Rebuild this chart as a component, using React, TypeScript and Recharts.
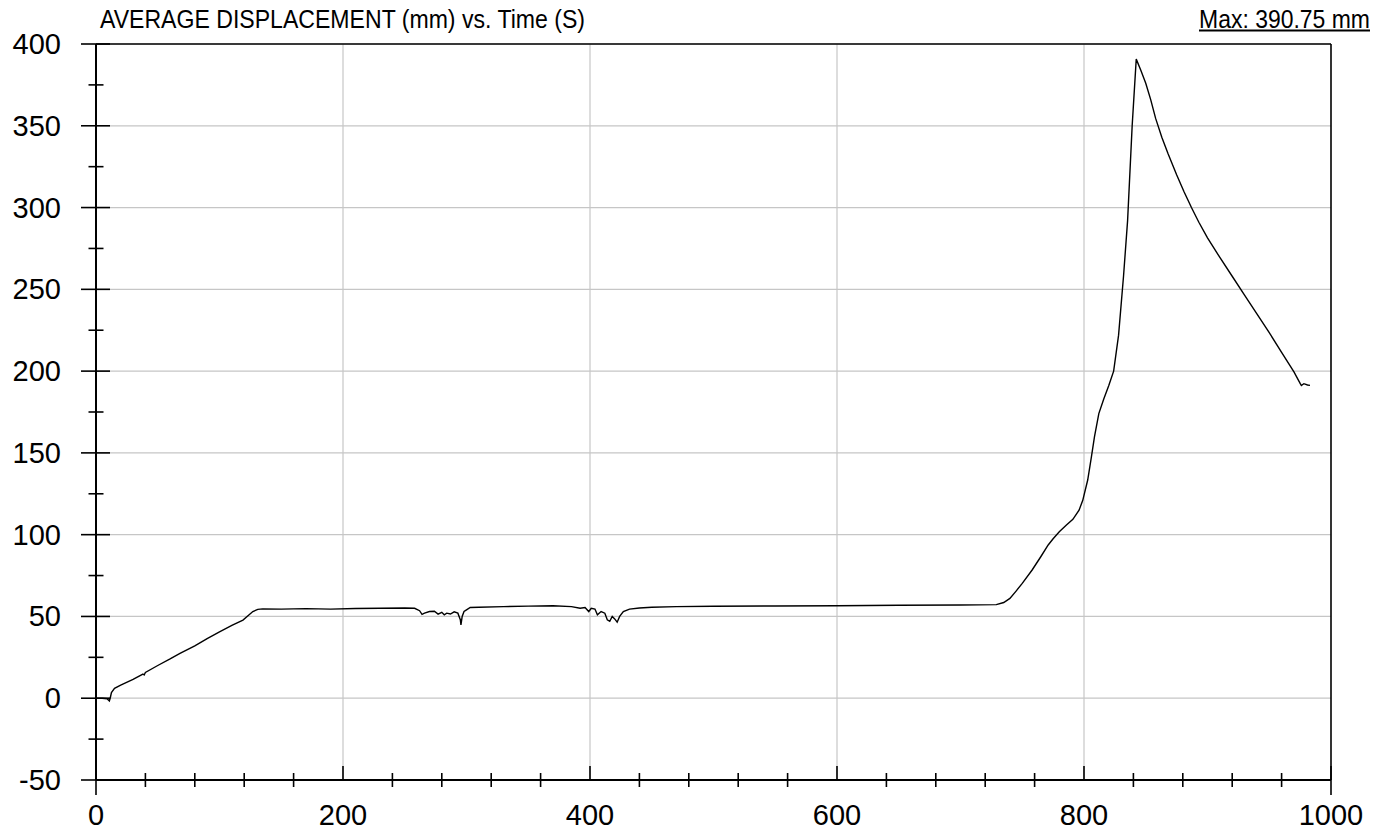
import React from 'react';
import { LineChart, Line, XAxis, YAxis, CartesianGrid, ReferenceLine } from 'recharts';

const timeS = [
  0, 5, 9, 10.8, 11.5, 12.5, 15, 20, 30, 38, 39, 40, 50, 60, 68, 80, 90, 100, 110, 119, 124, 127, 131, 135,
  150, 170, 190, 210, 230, 250, 258,
  262, 264, 266, 270, 274, 277, 280, 282, 284, 287, 290, 293, 295, 295.5, 296.5, 298, 300, 303, 310,
  330, 350, 370, 385, 392,
  396, 399, 401, 404, 406, 409, 412, 414, 416, 418, 420, 422, 424, 427, 432, 440, 450, 470,
  500, 550, 600, 650, 700, 729,
  735, 740, 745, 750, 758, 765, 771, 775, 780, 786, 791, 796, 799, 803, 806, 808.5, 812, 816, 820, 824, 828, 832, 835.3, 839, 842.3,
  846, 850, 854, 858, 863, 868, 875, 881, 887, 893, 900, 910, 920, 930, 940, 950, 960, 970, 975, 976, 978, 981, 983,
];

const displacementMm = [
  0, 0, -0.3, -1.7, 0, 3.5, 6, 8, 11.5, 14.8, 14.2, 15.8, 20, 24, 27.4, 32, 36.5, 40.5, 44.5, 47.8, 51, 53, 54.3, 54.6,
  54.5, 54.8, 54.5, 54.9, 55, 55.2, 55,
  53.5, 51.3, 52, 53, 53.2, 51.4, 52.5, 51, 52, 51.5, 52.8, 52, 48, 44.8, 50, 53, 54, 55.5, 55.6,
  56, 56.3, 56.5, 56, 55,
  55.5, 53, 55, 54.5, 51, 53, 52, 48, 47, 50, 48.5, 46.5, 50, 53, 54.5, 55.2, 55.6, 56,
  56.2, 56.4, 56.5, 56.8, 57, 57.2,
  58.5, 61, 65.5, 70.2, 78.4, 86.5, 93.7, 97.5, 101.8, 106, 109.4, 115, 121, 133.4, 147.6, 160, 174, 183, 191, 200, 222, 258, 292, 350, 390.75,
  384, 376, 366, 354.5, 343, 333, 320, 309.7, 300, 291, 281.5, 269.5, 258, 246.5, 235, 223.5, 211.5, 199.5, 192.5, 191.2, 192.3, 191.5, 191.3,
];

const xTicks = [0, 40, 80, 120, 160, 200, 240, 280, 320, 360, 400, 440, 480, 520, 560, 600, 640, 680, 720, 760, 800, 840, 880, 920, 960, 1000];
const xLabelTicks = [0, 200, 400, 600, 800, 1000];
const xGridValues = [200, 400, 600, 800];
const yTicks = [-50, -25, 0, 25, 50, 75, 100, 125, 150, 175, 200, 225, 250, 275, 300, 325, 350, 375, 400];
const yLabelTicks = [-50, 0, 50, 100, 150, 200, 250, 300, 350, 400];

const titleText = 'AVERAGE DISPLACEMENT (mm) vs. Time (S)';
const maxText = 'Max: 390.75 mm';

const data = timeS.map((t, i) => ({ t, d: displacementMm[i] }));

const FONT = '"Liberation Sans", Arial, Helvetica, sans-serif';

const XTick = (props: any) => {
  const { x, y, payload } = props;
  const v = payload.value;
  const major = xLabelTicks.includes(v);
  const end = v === 0 || v === 1000;
  return (
    <g>
      {major ? (
        <line x1={x} x2={x} y1={y - 14} y2={end ? y + 15 : y} stroke="#000" strokeWidth={1.6} />
      ) : (
        <line x1={x} x2={x} y1={y - 7} y2={y + 7} stroke="#000" strokeWidth={1.6} />
      )}
      {major && (
        <text x={x} y={y + 45} textAnchor="middle" fontSize={29} fontFamily={FONT} fill="#000">
          {v}
        </text>
      )}
    </g>
  );
};

const YTick = (props: any) => {
  const { x, y, payload } = props;
  const v = payload.value;
  const major = yLabelTicks.includes(v);
  return (
    <g>
      {major ? (
        <line x1={x - 15} x2={x + 14} y1={y} y2={y} stroke="#000" strokeWidth={1.6} />
      ) : (
        <line x1={x - 7.5} x2={x + 7.5} y1={y} y2={y} stroke="#000" strokeWidth={1.6} />
      )}
      {major && (
        <text x={x - 35} y={y + 10} textAnchor="end" fontSize={29} fontFamily={FONT} fill="#000">
          {v}
        </text>
      )}
    </g>
  );
};

export default function App() {
  return (
    <div style={{ position: 'absolute', left: 0, top: 0, width: 1384, height: 833, background: '#fff' }}>
      <LineChart
        width={1384}
        height={833}
        data={data}
        margin={{ top: 44, right: 53, bottom: 13, left: 36 }}
      >
        <CartesianGrid
          stroke="#c6c6c6"
          strokeWidth={1.2}
          horizontalValues={yLabelTicks}
          verticalValues={xGridValues}
        />
        <XAxis
          dataKey="t"
          type="number"
          domain={[0, 1000]}
          ticks={xTicks}
          interval={0}
          height={40}
          tickSize={0}
          tickMargin={0}
          tickLine={false}
          axisLine={{ stroke: '#000', strokeWidth: 2 }}
          tick={<XTick />}
        />
        <YAxis
          type="number"
          domain={[-50, 400]}
          ticks={yTicks}
          interval={0}
          width={60}
          tickSize={0}
          tickMargin={0}
          tickLine={false}
          axisLine={{ stroke: '#000', strokeWidth: 2 }}
          tick={<YTick />}
        />
        <ReferenceLine y={400} stroke="#000" strokeWidth={1.6} />
        <ReferenceLine x={1000} stroke="#000" strokeWidth={1.6} />
        <Line
          type="linear"
          dataKey="d"
          stroke="#000"
          strokeWidth={1.4}
          dot={false}
          activeDot={false}
          isAnimationActive={false}
        />
      </LineChart>
      <svg
        width={1384}
        height={40}
        style={{ position: 'absolute', left: 0, top: 0, pointerEvents: 'none' }}
      >
        <text
          x={100}
          y={28}
          fontSize={25}
          fontFamily={FONT}
          fill="#000"
          textLength={485}
          lengthAdjust="spacingAndGlyphs"
        >
          {titleText}
        </text>
        <text
          x={1199}
          y={28}
          fontSize={25}
          fontFamily={FONT}
          fill="#000"
          textLength={171}
          lengthAdjust="spacingAndGlyphs"
        >
          {maxText}
        </text>
        <line x1={1199} x2={1370} y1={30.5} y2={30.5} stroke="#000" strokeWidth={2} />
      </svg>
    </div>
  );
}
